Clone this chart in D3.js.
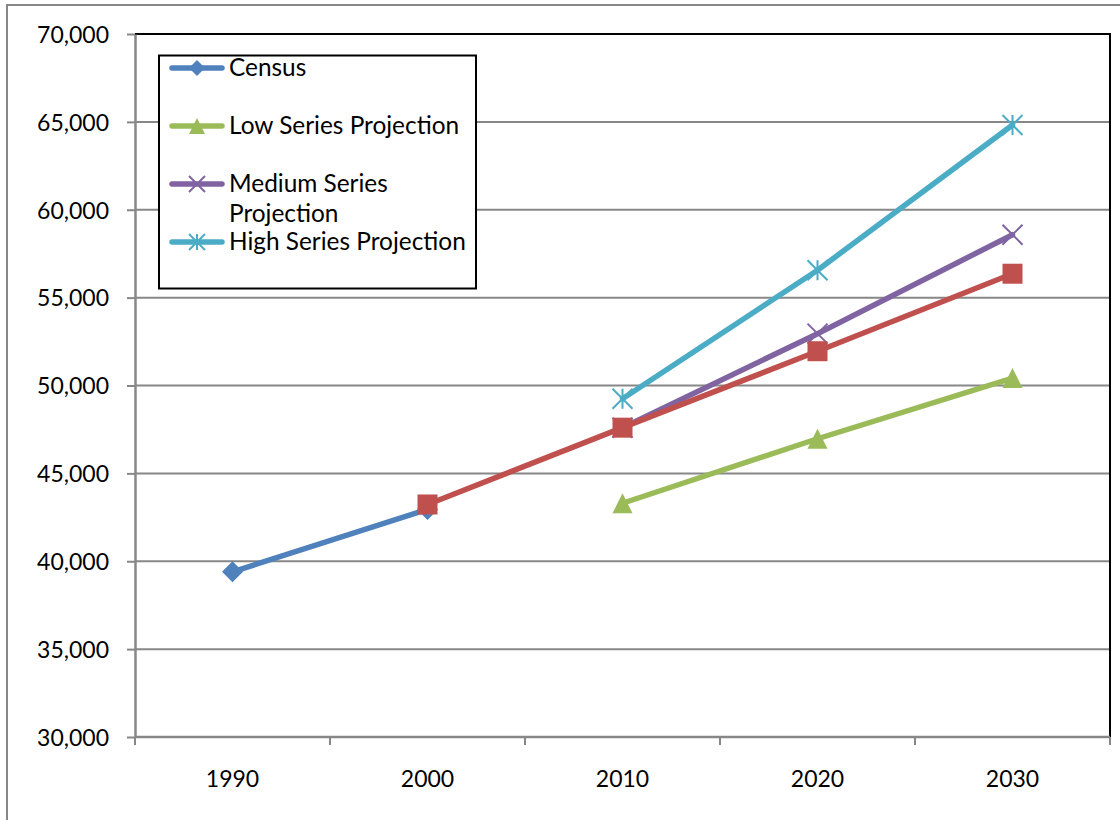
<!DOCTYPE html>
<html>
<head>
<meta charset="utf-8">
<script src="https://cdn.jsdelivr.net/npm/d3@7"></script>
<style>
  html, body { margin: 0; padding: 0; background: #fff; }
  svg { display: block; }
  text { font-family: Lato, "Open Sans", sans-serif; fill: #000; }
</style>
</head>
<body>
<svg id="chart" width="1120" height="820"></svg>
<script>
// Population, census counts and projections by decade
const years = ["1990", "2000", "2010", "2020", "2030"];
const census = [39400, 42950, null, null, null];
const lowSeries = [null, null, 43300, 46970, 50420];
const mediumSeries = [null, null, 47600, 52950, 58580];
const highSeries = [null, null, 49250, 56560, 64820];
const estimateSeries = [null, 43230, 47600, 51950, 56360];
const yTicks = [30000, 35000, 40000, 45000, 50000, 55000, 60000, 65000, 70000];

const series = [
  { name: "Census", values: census, color: "#4F81BD", marker: "diamond", legend: ["Census"] },
  { name: "Low Series Projection", values: lowSeries, color: "#9BBB59", marker: "triangle", legend: ["Low Series Projection"] },
  { name: "Medium Series Projection", values: mediumSeries, color: "#8064A2", marker: "cross", legend: ["Medium Series", "Projection"] },
  { name: "High Series Projection", values: highSeries, color: "#4BACC6", marker: "star", legend: ["High Series Projection"] },
  { name: "Estimate", values: estimateSeries, color: "#C0504D", marker: "square", legend: null }
];

const svg = d3.select("#chart");
const grey = "#878787";

// outer chart frame
svg.append("rect")
  .attr("x", 7).attr("y", 5)
  .attr("width", 1140).attr("height", 840)
  .attr("fill", "none").attr("stroke", grey).attr("stroke-width", 2);

const plot = { left: 135, right: 1110, top: 34, bottom: 737 };

const x = d3.scaleBand().domain(years).range([plot.left, plot.right]);
const y = d3.scaleLinear().domain([30000, 70000]).range([plot.bottom, plot.top]);
const cx = d => x(d) + x.bandwidth() / 2;

// horizontal gridlines
svg.append("g")
  .selectAll("line")
  .data(yTicks.filter(t => t > 30000 && t < 70000))
  .join("line")
  .attr("x1", plot.left).attr("x2", plot.right)
  .attr("y1", d => y(d)).attr("y2", d => y(d))
  .attr("stroke", grey).attr("stroke-width", 2);

// plot area border: top and right edges
svg.append("path")
  .attr("d", `M${plot.left},${y(70000)}H${plot.right}V${plot.bottom}`)
  .attr("fill", "none").attr("stroke", "#000").attr("stroke-width", 2);

// y axis
const yAxis = svg.append("g")
  .attr("transform", `translate(${plot.left},0)`)
  .call(d3.axisLeft(y).tickValues(yTicks).tickFormat(d3.format(",")).tickSize(8).tickPadding(18).tickSizeOuter(0));
yAxis.select(".domain").attr("stroke", grey).attr("stroke-width", 2.5);
yAxis.selectAll(".tick line").attr("stroke", grey).attr("stroke-width", 2);
yAxis.selectAll(".tick text")
  .attr("font-size", 23).attr("font-family", "Lato, sans-serif").attr("fill", "#000")
  .attr("dy", "0.36em");

// x axis: baseline, tick marks between categories, labels centred in each band
const xAxis = svg.append("g");
xAxis.append("line")
  .attr("x1", plot.left).attr("x2", plot.right)
  .attr("y1", plot.bottom).attr("y2", plot.bottom)
  .attr("stroke", grey).attr("stroke-width", 2.5);
const boundaries = years.map(d => x(d)).concat([x(years[years.length - 1]) + x.bandwidth()]);
xAxis.selectAll("line.tick")
  .data(boundaries)
  .join("line")
  .attr("class", "tick")
  .attr("x1", d => d).attr("x2", d => d)
  .attr("y1", plot.bottom).attr("y2", plot.bottom + 8)
  .attr("stroke", grey).attr("stroke-width", 2);
xAxis.selectAll("text")
  .data(years)
  .join("text")
  .attr("x", d => cx(d))
  .attr("y", 787)
  .attr("text-anchor", "middle")
  .attr("font-size", 23)
  .text(d => d);

// marker shapes
function drawMarker(g, type, px, py, s, color) {
  const h = s / 2;
  if (type === "diamond") {
    g.append("path").attr("d", `M${px},${py - h}L${px + h},${py}L${px},${py + h}L${px - h},${py}Z`).attr("fill", color);
  } else if (type === "square") {
    g.append("rect").attr("x", px - h).attr("y", py - h).attr("width", s).attr("height", s).attr("fill", color);
  } else if (type === "triangle") {
    g.append("path").attr("d", `M${px},${py - h}L${px + h},${py + h}L${px - h},${py + h}Z`).attr("fill", color);
  } else if (type === "cross") {
    g.append("path").attr("d", `M${px - h},${py - h}L${px + h},${py + h}M${px + h},${py - h}L${px - h},${py + h}`)
      .attr("stroke", color).attr("stroke-width", 2).attr("fill", "none");
  } else if (type === "star") {
    g.append("path").attr("d", `M${px - h},${py - h}L${px + h},${py + h}M${px + h},${py - h}L${px - h},${py + h}M${px},${py - h}V${py + h}`)
      .attr("stroke", color).attr("stroke-width", 2).attr("fill", "none");
  }
}

const line = d3.line()
  .defined(d => d.v != null)
  .x(d => cx(d.year))
  .y(d => y(d.v));

const marks = svg.append("g");
series.forEach(s => {
  const pts = years.map((yr, i) => ({ year: yr, v: s.values[i] }));
  const g = marks.append("g");
  g.append("path")
    .datum(pts)
    .attr("d", line)
    .attr("fill", "none")
    .attr("stroke", s.color)
    .attr("stroke-width", 5.5)
    .attr("stroke-linejoin", "round")
    .attr("stroke-linecap", "round");
  pts.filter(d => d.v != null).forEach(d => {
    drawMarker(g, s.marker, cx(d.year), y(d.v), s.marker === "diamond" ? 21 : 20, s.color);
  });
});

// legend
const legend = svg.append("g");
legend.append("rect")
  .attr("x", 159).attr("y", 55.5).attr("width", 317).attr("height", 233)
  .attr("fill", "#fff").attr("stroke", "#000").attr("stroke-width", 2);
const legendItems = series.filter(s => s.legend);
legendItems.forEach((s, i) => {
  const ly = 68 + i * 58;
  const g = legend.append("g");
  g.append("line")
    .attr("x1", 172).attr("x2", 222).attr("y1", ly).attr("y2", ly)
    .attr("stroke", s.color).attr("stroke-width", 5.5).attr("stroke-linecap", "round");
  drawMarker(g, s.marker, 197, ly, 16, s.color);
  s.legend.forEach((t, j) => {
    g.append("text")
      .attr("x", 229).attr("y", ly + 8 + j * 30)
      .attr("font-size", 24.4)
      .text(t);
  });
});
</script>
</body>
</html>
